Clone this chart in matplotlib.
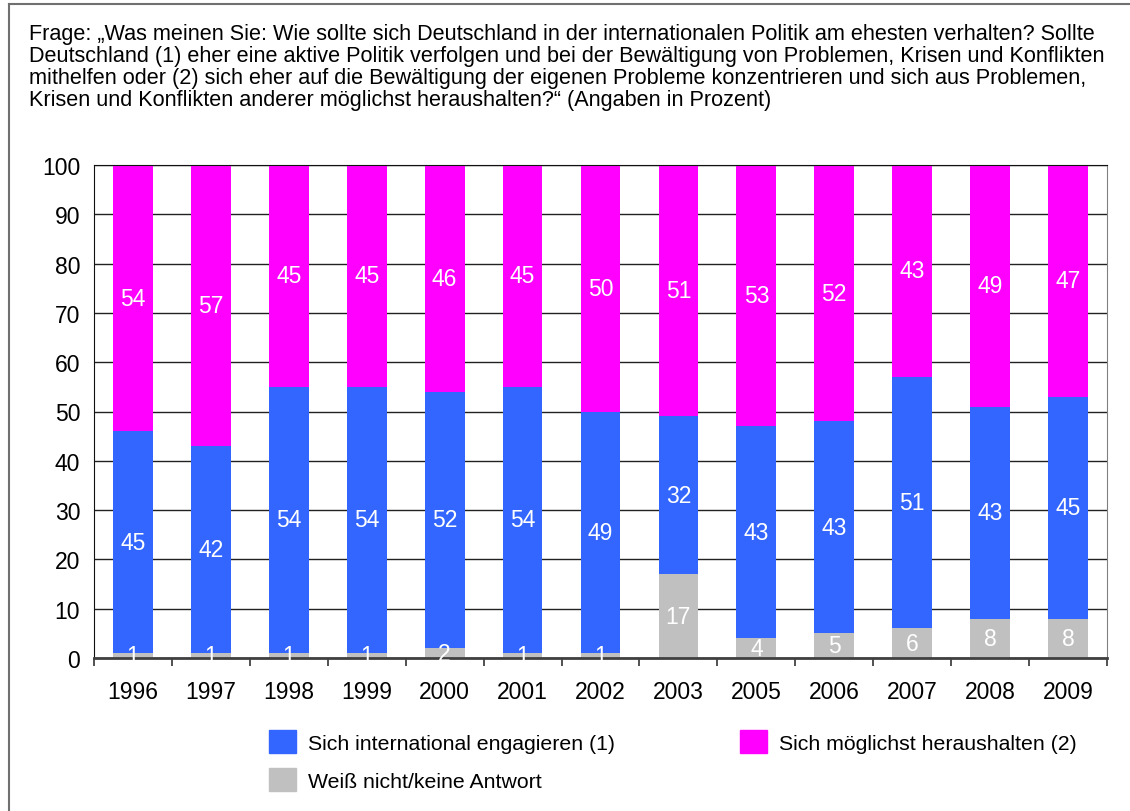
import matplotlib.pyplot as plt
from matplotlib.patches import Patch
from matplotlib.lines import Line2D
import numpy as np

plt.rcParams['font.family'] = ['Liberation Sans', 'DejaVu Sans']

years = ['1996', '1997', '1998', '1999', '2000', '2001', '2002',
         '2003', '2005', '2006', '2007', '2008', '2009']
weiss_nicht = [1, 1, 1, 1, 2, 1, 1, 17, 4, 5, 6, 8, 8]
engagieren = [45, 42, 54, 54, 52, 54, 49, 32, 43, 43, 51, 43, 45]
heraushalten = [54, 57, 45, 45, 46, 45, 50, 51, 53, 52, 43, 49, 47]

labels = ['Sich international engagieren (1)', 'Sich möglichst heraushalten (2)',
          'Weiß nicht/keine Antwort']
c_blue = '#3366FF'
c_mag = '#FF00FF'
c_grey = '#C0C0C0'

question = ('Frage: „Was meinen Sie: Wie sollte sich Deutschland in der internationalen Politik am ehesten verhalten? Sollte\n'
            'Deutschland (1) eher eine aktive Politik verfolgen und bei der Bewältigung von Problemen, Krisen und Konflikten\n'
            'mithelfen oder (2) sich eher auf die Bewältigung der eigenen Probleme konzentrieren und sich aus Problemen,\n'
            'Krisen und Konflikten anderer möglichst heraushalten?“ (Angaben in Prozent)')

fig = plt.figure(figsize=(11.3, 8.12), dpi=100)
ax = fig.add_axes([94 / 1130, 1 - 659 / 812, (1107 - 94) / 1130, (659 - 166) / 812])

x = np.arange(len(years))
w = 0.51
b1 = ax.bar(x, weiss_nicht, w, color=c_grey, zorder=2)
b2 = ax.bar(x, engagieren, w, bottom=weiss_nicht, color=c_blue, zorder=2)
bottom3 = np.array(weiss_nicht) + np.array(engagieren)
b3 = ax.bar(x, heraushalten, w, bottom=bottom3, color=c_mag, zorder=2)

for bars in (b1, b2, b3):
    ax.bar_label(bars, label_type='center', color='white', fontsize=16.5)

ax.set_xlim(-0.5, len(years) - 0.5)
ax.set_ylim(0, 100)
ax.set_yticks(range(0, 101, 10))
ax.yaxis.grid(True, color='#222222', linewidth=1.0, zorder=0)
ax.set_axisbelow(True)
ax.tick_params(axis='y', length=0, pad=10, labelsize=16.5)
ax.set_xticks(x)
ax.set_xticklabels(years)
ax.tick_params(axis='x', which='major', length=0, pad=16, labelsize=16.5)
ax.set_xticks(np.arange(-0.5, len(years), 1.0), minor=True)
ax.tick_params(axis='x', which='minor', length=6, width=1.2, color='#333333', direction='out')

ax.spines['top'].set_color('#111111')
ax.spines['left'].set_color('#111111')
ax.spines['right'].set_color('#808080')
ax.spines['bottom'].set_color('#404040')
ax.spines['bottom'].set_linewidth(2)

fig.text(29 / 1130, 1 - 24 / 812, question, fontsize=15.6, va='top', ha='left',
         linespacing=1.06)

handles = [Patch(color=c_blue), Patch(color=c_grey), Patch(color=c_mag)]
fig.legend(handles, [labels[0], labels[2], labels[1]], ncol=2, frameon=False,
           loc='upper left', bbox_to_anchor=(269 / 1130, 1 - 731 / 812),
           fontsize=15.3, handlelength=1.27, handleheight=1.27, handletextpad=0.56,
           labelspacing=0.72, columnspacing=5.9, borderaxespad=0, borderpad=0)

# outer frame (left and top edges)
fig.add_artist(Line2D([8.5 / 1130, 8.5 / 1130], [0, 1 - 5 / 812], color='#707070', linewidth=1.5))
fig.add_artist(Line2D([8.5 / 1130, 1], [1 - 5 / 812, 1 - 5 / 812], color='#707070', linewidth=1.5))

fig.savefig('out.png', dpi=100)
